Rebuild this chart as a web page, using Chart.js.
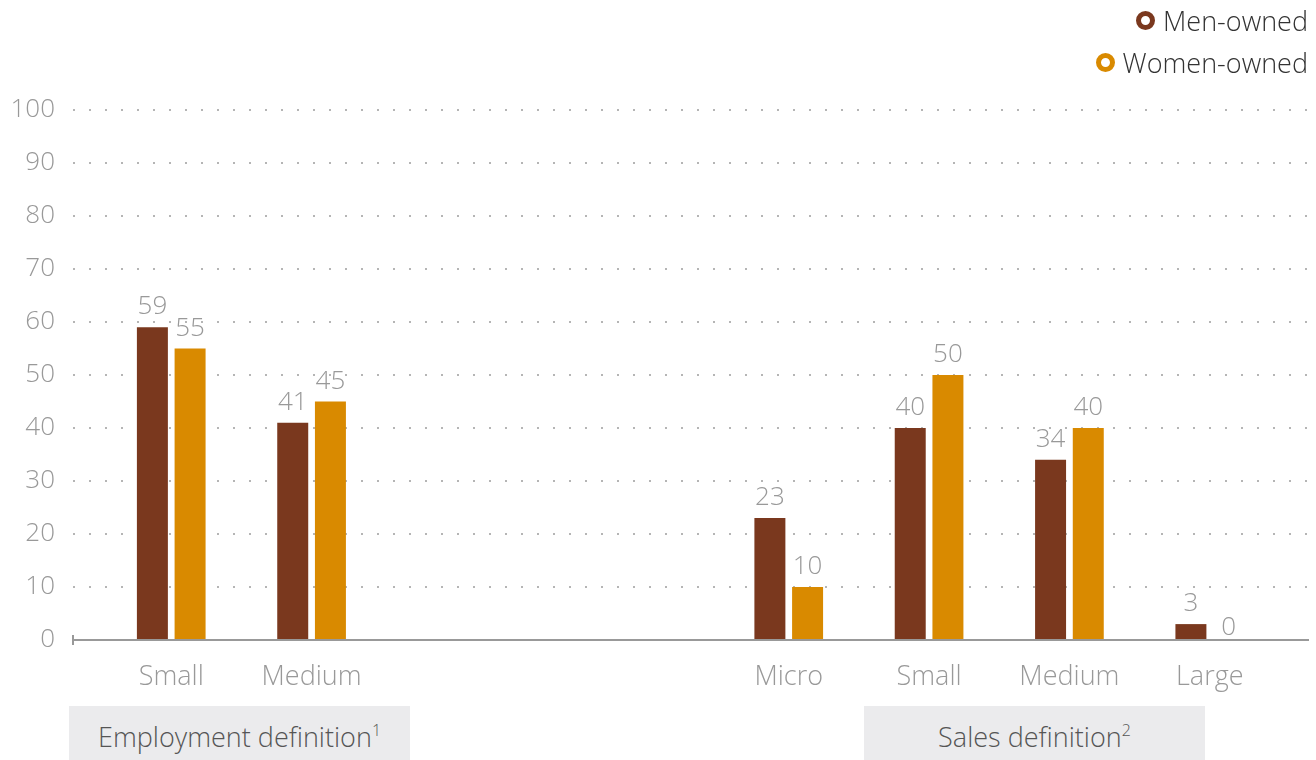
<!DOCTYPE html>
<html>
<head>
<meta charset="utf-8">
<script src="https://cdn.jsdelivr.net/npm/chart.js@4/dist/chart.umd.min.js"></script>
<style>
  body { margin: 0; background: #fff; font-family: "Open Sans", "Lato", sans-serif; }
  #wrap { position: relative; width: 1316px; height: 760px; }
  .legend { position: absolute; right: 8px; font-weight: 300; font-size: 27px; color: #333; display: flex; align-items: center; height: 36px; }
  .legend .dot { flex: 0 0 19px; box-sizing: border-box; width: 19px; height: 19px; border-radius: 50%; border: 5px solid; margin-right: 8px; }
  .box { position: absolute; top: 706px; width: 341px; height: 54px; background: #ebebed; color: #555; font-weight: 300; font-size: 27px; text-align: center; line-height: 62px; }
  .box sup { font-size: 16px; line-height: 0; vertical-align: 11px; }
</style>
</head>
<body>
<div id="wrap">
  <canvas id="chart"></canvas>
  <div class="legend" style="top:2px"><span class="dot" style="border-color:#7a381e"></span>Men-owned</div>
  <div class="legend" style="top:44px"><span class="dot" style="border-color:#d98a00"></span>Women-owned</div>
  <div class="box" style="left:69px">Employment definition<sup>1</sup></div>
  <div class="box" style="left:864px">Sales definition<sup>2</sup></div>
</div>
<script>
const employmentSizes = ["Small", "Medium"];
const salesSizes = ["Micro", "Small", "Medium", "Large"];
const menEmployment = [59, 41];
const womenEmployment = [55, 45];
const menSales = [23, 40, 34, 3];
const womenSales = [10, 50, 40, 0];
const yTicks = [0, 10, 20, 30, 40, 50, 60, 70, 80, 90, 100];

// category slots: blank slots keep the gap between the two definitions
const slotCount = 44;
const employmentStart = 3;
const salesStart = 25;
const step = 5;

const labels = new Array(slotCount).fill("");
const menData = new Array(slotCount).fill(null);
const womenData = new Array(slotCount).fill(null);

employmentSizes.forEach((name, i) => {
  const s = employmentStart + i * step;
  labels[s] = name;
  menData[s] = menEmployment[i];
  womenData[s] = womenEmployment[i];
});
salesSizes.forEach((name, i) => {
  const s = salesStart + i * step;
  labels[s] = name;
  menData[s] = menSales[i];
  womenData[s] = womenSales[i];
});

const valueLabels = {
  id: "valueLabels",
  afterDatasetsDraw(chart) {
    const ctx = chart.ctx;
    ctx.save();
    ctx.font = "300 26px 'Open Sans'";
    ctx.fillStyle = "#999";
    ctx.textAlign = "center";
    ctx.textBaseline = "alphabetic";
    chart.data.datasets.forEach((ds, di) => {
      chart.getDatasetMeta(di).data.forEach((bar, i) => {
        const v = ds.data[i];
        if (v === null) return;
        const off = v === 0 ? 5 : 13;
        ctx.fillText(String(v), bar.x, bar.y - off);
      });
    });
    // small tick at the left end of the axis
    const a = chart.chartArea;
    ctx.strokeStyle = "#999";
    ctx.lineWidth = 2;
    ctx.beginPath();
    ctx.moveTo(a.left, a.bottom - 5);
    ctx.lineTo(a.left, a.bottom + 5);
    ctx.stroke();
    ctx.restore();
  }
};

new Chart(document.getElementById("chart"), {
  type: "bar",
  data: {
    labels,
    datasets: [
      {
        label: "Men-owned",
        data: menData,
        backgroundColor: "#7a381e",
        categoryPercentage: 2.686,
        barPercentage: 0.822,
      },
      {
        label: "Women-owned",
        data: womenData,
        backgroundColor: "#d98a00",
        categoryPercentage: 2.686,
        barPercentage: 0.822,
      },
    ],
  },
  options: {
    responsive: true,
    maintainAspectRatio: false,
    animation: false,
    layout: { padding: { top: 110, right: 8, left: 0, bottom: 0 } },
    plugins: {
      legend: { display: false },
      tooltip: { enabled: false },
    },
    scales: {
      x: {
        offset: true,
        grid: { display: false },
        border: { color: "#999", width: 2 },
        ticks: {
          autoSkip: false,
          maxRotation: 0,
          color: "#999",
          font: { family: "Open Sans", weight: 300, size: 27 },
          padding: 13,
        },
        afterFit(scale) { scale.height = 120; },
      },
      y: {
        min: 0,
        max: 100,
        afterBuildTicks(scale) { scale.ticks = yTicks.map((v) => ({ value: v })); },
        grid: { color: "#b5b5b5", lineWidth: 2, drawTicks: false },
        border: { display: false, dash: [2, 14] },
        ticks: {
          color: "#999",
          font: { family: "Open Sans", weight: 300, size: 26 },
          padding: 18,
        },
        afterFit(scale) { scale.width = 73; },
      },
    },
  },
  plugins: [valueLabels],
});
</script>
</body>
</html>
